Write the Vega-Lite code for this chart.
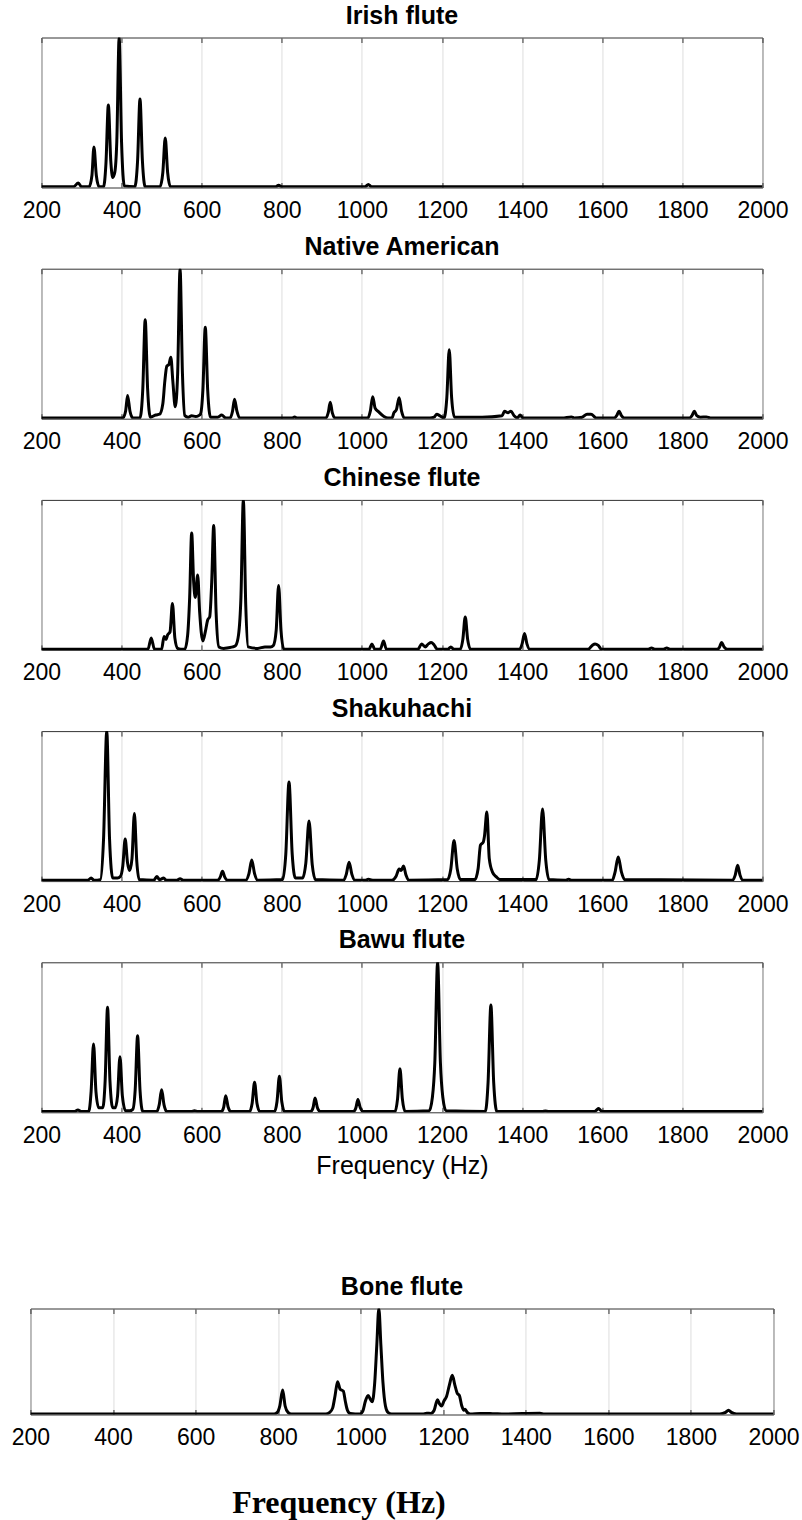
{
"$schema": "https://vega.github.io/schema/vega-lite/v6.json",
"background": "white",
"padding": {"left": 10, "top": 2.5, "right": 10, "bottom": 0},
"config": {
  "view": {"stroke": "#333333", "strokeWidth": 1},
  "font": "Liberation Sans",
  "title": {"font": "Liberation Sans", "fontSize": 25, "fontWeight": "bold", "color": "black", "offset": 8.5, "anchor": "middle", "baseline": "alphabetic"},
  "axis": {"domain": false, "ticks": true, "tickSize": -5, "tickColor": "#333333", "tickWidth": 1, "grid": true, "gridColor": "#dddddd", "gridWidth": 1, "labelFont": "Liberation Sans", "labelFontSize": 23, "labelColor": "black", "labelPadding": 17, "labelFlush": false, "labelOverlap": false, "format": "d", "titleFont": "Liberation Sans", "titleFontSize": 25, "titleFontWeight": "normal", "titleColor": "black", "titlePadding": 6}
},
"spacing": 94,
"center": true,
"vconcat": [
{
"spacing": 81.2,
"bounds": "flush",
"vconcat": [
{
 "title": "Irish flute",
 "width": 721, "height": 150,
 "data": {"values": [
  {"f":200,"a":0.005},{"f":280,"a":0.005},{"f":292,"a":0.03},{"f":300,"a":0.005},
  {"f":319,"a":0.005},{"f":326,"a":0.08},{"f":331,"a":0.27},{"f":337,"a":0.08},{"f":344,"a":0.005},
  {"f":355,"a":0.005},{"f":361,"a":0.16},{"f":367,"a":0.55},{"f":373,"a":0.18},{"f":378,"a":0.067},{"f":383,"a":0.1},{"f":388,"a":0.3},{"f":394,"a":1.0},{"f":400,"a":0.3},{"f":407,"a":0.01},
  {"f":433,"a":0.005},{"f":440,"a":0.18},{"f":446,"a":0.59},{"f":452,"a":0.18},{"f":459,"a":0.005},
  {"f":496,"a":0.005},{"f":503,"a":0.1},{"f":509,"a":0.33},{"f":515,"a":0.1},{"f":522,"a":0.005},
  {"f":785,"a":0.005},{"f":792,"a":0.015},{"f":800,"a":0.005},
  {"f":1008,"a":0.005},{"f":1016,"a":0.02},{"f":1024,"a":0.005},{"f":2000,"a":0.005}
 ]},
 "layer": [
  {"mark": {"type": "line", "color": "black", "strokeWidth": 3, "interpolate": "monotone", "clip": true},
   "encoding": {
    "x": {"field": "f", "type": "quantitative", "scale": {"domain": [200, 2000], "nice": false}, "axis": {"values": [200,400,600,800,1000,1200,1400,1600,1800,2000], "title": null}},
    "y": {"field": "a", "type": "quantitative", "scale": {"domain": [0, 1]}, "axis": null}}},
  {"mark": {"type": "line", "opacity": 0},
   "encoding": {
    "x": {"field": "f", "type": "quantitative", "axis": {"orient": "top", "values": [200,400,600,800,1000,1200,1400,1600,1800,2000], "labels": false, "grid": false, "title": null}},
    "y": {"field": "a", "type": "quantitative", "axis": null}}}
 ],
 "resolve": {"axis": {"x": "independent"}}
},
{
 "title": "Native American",
 "width": 721, "height": 150,
 "data": {"values": [
  {"f":200,"a":0.005},{"f":400,"a":0.005},
  {"f":403,"a":0.005},{"f":410,"a":0.05},{"f":415,"a":0.154},{"f":421,"a":0.05},{"f":428,"a":0.005},
  {"f":446,"a":0.005},{"f":453,"a":0.2},{"f":459,"a":0.66},{"f":465,"a":0.2},{"f":472,"a":0.01},
  {"f":485,"a":0.025},{"f":495,"a":0.03},{"f":503,"a":0.1},{"f":508,"a":0.25},{"f":513,"a":0.35},{"f":518,"a":0.36},{"f":523,"a":0.41},{"f":528,"a":0.25},{"f":534,"a":0.08},{"f":540,"a":0.3},{"f":546,"a":1.0},{"f":552,"a":0.3},{"f":558,"a":0.02},
  {"f":566,"a":0.01},{"f":575,"a":0.02},{"f":585,"a":0.015},{"f":592,"a":0.02},
  {"f":597,"a":0.03},{"f":603,"a":0.19},{"f":609,"a":0.61},{"f":615,"a":0.19},{"f":622,"a":0.01},
  {"f":640,"a":0.01},{"f":650,"a":0.025},{"f":660,"a":0.005},
  {"f":671,"a":0.005},{"f":677,"a":0.05},{"f":682,"a":0.13},{"f":688,"a":0.05},{"f":695,"a":0.005},
  {"f":826,"a":0.005},{"f":832,"a":0.012},{"f":838,"a":0.005},
  {"f":910,"a":0.005},{"f":916,"a":0.04},{"f":921,"a":0.11},{"f":926,"a":0.04},{"f":933,"a":0.005},
  {"f":1015,"a":0.005},{"f":1021,"a":0.05},{"f":1027,"a":0.147},{"f":1033,"a":0.07},{"f":1042,"a":0.045},{"f":1055,"a":0.015},{"f":1065,"a":0.005},
  {"f":1075,"a":0.005},{"f":1080,"a":0.04},{"f":1086,"a":0.06},{"f":1093,"a":0.14},{"f":1099,"a":0.05},{"f":1106,"a":0.005},
  {"f":1170,"a":0.005},{"f":1180,"a":0.01},{"f":1187,"a":0.03},{"f":1194,"a":0.02},
  {"f":1205,"a":0.005},{"f":1212,"a":0.14},{"f":1218,"a":0.46},{"f":1224,"a":0.14},{"f":1231,"a":0.01},
  {"f":1300,"a":0.01},{"f":1350,"a":0.02},{"f":1356,"a":0.05},{"f":1365,"a":0.04},{"f":1372,"a":0.05},{"f":1380,"a":0.02},{"f":1388,"a":0.005},{"f":1395,"a":0.025},{"f":1402,"a":0.005},
  {"f":1500,"a":0.005},{"f":1523,"a":0.012},{"f":1530,"a":0.005},{"f":1550,"a":0.01},{"f":1562,"a":0.03},{"f":1572,"a":0.03},{"f":1585,"a":0.005},
  {"f":1630,"a":0.005},{"f":1636,"a":0.02},{"f":1642,"a":0.05},{"f":1648,"a":0.02},{"f":1655,"a":0.005},
  {"f":1818,"a":0.005},{"f":1824,"a":0.02},{"f":1830,"a":0.05},{"f":1836,"a":0.02},{"f":1845,"a":0.01},{"f":1860,"a":0.012},{"f":1870,"a":0.005},{"f":2000,"a":0.005}
 ]},
 "layer": [
  {"mark": {"type": "line", "color": "black", "strokeWidth": 3, "interpolate": "monotone", "clip": true},
   "encoding": {
    "x": {"field": "f", "type": "quantitative", "scale": {"domain": [200, 2000], "nice": false}, "axis": {"values": [200,400,600,800,1000,1200,1400,1600,1800,2000], "title": null}},
    "y": {"field": "a", "type": "quantitative", "scale": {"domain": [0, 1]}, "axis": null}}},
  {"mark": {"type": "line", "opacity": 0},
   "encoding": {
    "x": {"field": "f", "type": "quantitative", "axis": {"orient": "top", "values": [200,400,600,800,1000,1200,1400,1600,1800,2000], "labels": false, "grid": false, "title": null}},
    "y": {"field": "a", "type": "quantitative", "axis": null}}}
 ],
 "resolve": {"axis": {"x": "independent"}}
},
{
 "title": "Chinese flute",
 "width": 721, "height": 150,
 "data": {"values": [
  {"f":200,"a":0.005},{"f":460,"a":0.005},{"f":466,"a":0.005},{"f":474,"a":0.08},{"f":482,"a":0.005},
  {"f":500,"a":0.005},{"f":506,"a":0.09},{"f":511,"a":0.07},{"f":515,"a":0.1},{"f":521,"a":0.12},{"f":527,"a":0.31},{"f":533,"a":0.08},{"f":540,"a":0.01},{"f":548,"a":0.005},
  {"f":558,"a":0.005},{"f":565,"a":0.1},{"f":570,"a":0.35},{"f":575,"a":0.78},{"f":580,"a":0.45},{"f":584,"a":0.35},{"f":590,"a":0.5},{"f":595,"a":0.25},{"f":603,"a":0.06},{"f":609,"a":0.12},{"f":615,"a":0.2},{"f":620,"a":0.22},{"f":625,"a":0.45},{"f":630,"a":0.83},{"f":636,"a":0.25},{"f":643,"a":0.02},
  {"f":655,"a":0.01},{"f":667,"a":0.015},{"f":678,"a":0.02},{"f":685,"a":0.03},{"f":692,"a":0.1},{"f":698,"a":0.35},{"f":704,"a":1.0},{"f":710,"a":0.3},{"f":716,"a":0.02},
  {"f":740,"a":0.01},{"f":758,"a":0.02},{"f":772,"a":0.02},{"f":779,"a":0.03},{"f":786,"a":0.13},{"f":792,"a":0.43},{"f":798,"a":0.13},{"f":805,"a":0.005},
  {"f":1018,"a":0.005},{"f":1025,"a":0.04},{"f":1032,"a":0.005},{"f":1046,"a":0.005},{"f":1054,"a":0.06},{"f":1061,"a":0.005},
  {"f":1140,"a":0.005},{"f":1149,"a":0.04},{"f":1158,"a":0.02},{"f":1166,"a":0.04},{"f":1173,"a":0.05},{"f":1180,"a":0.035},{"f":1188,"a":0.005},{"f":1215,"a":0.005},{"f":1222,"a":0.02},{"f":1229,"a":0.005},
  {"f":1246,"a":0.005},{"f":1252,"a":0.07},{"f":1258,"a":0.22},{"f":1264,"a":0.07},{"f":1271,"a":0.005},
  {"f":1394,"a":0.005},{"f":1400,"a":0.04},{"f":1406,"a":0.11},{"f":1412,"a":0.04},{"f":1419,"a":0.005},
  {"f":1565,"a":0.005},{"f":1575,"a":0.03},{"f":1582,"a":0.04},{"f":1590,"a":0.03},{"f":1598,"a":0.005},
  {"f":1715,"a":0.005},{"f":1723,"a":0.012},{"f":1731,"a":0.005},{"f":1753,"a":0.005},{"f":1761,"a":0.012},{"f":1769,"a":0.005},
  {"f":1888,"a":0.005},{"f":1893,"a":0.02},{"f":1898,"a":0.05},{"f":1904,"a":0.02},{"f":1912,"a":0.005},{"f":2000,"a":0.005}
 ]},
 "layer": [
  {"mark": {"type": "line", "color": "black", "strokeWidth": 3, "interpolate": "monotone", "clip": true},
   "encoding": {
    "x": {"field": "f", "type": "quantitative", "scale": {"domain": [200, 2000], "nice": false}, "axis": {"values": [200,400,600,800,1000,1200,1400,1600,1800,2000], "title": null}},
    "y": {"field": "a", "type": "quantitative", "scale": {"domain": [0, 1]}, "axis": null}}},
  {"mark": {"type": "line", "opacity": 0},
   "encoding": {
    "x": {"field": "f", "type": "quantitative", "axis": {"orient": "top", "values": [200,400,600,800,1000,1200,1400,1600,1800,2000], "labels": false, "grid": false, "title": null}},
    "y": {"field": "a", "type": "quantitative", "axis": null}}}
 ],
 "resolve": {"axis": {"x": "independent"}}
},
{
 "title": "Shakuhachi",
 "width": 721, "height": 150,
 "data": {"values": [
  {"f":200,"a":0.005},{"f":315,"a":0.005},{"f":324,"a":0.02},{"f":332,"a":0.005},
  {"f":347,"a":0.01},{"f":355,"a":0.28},{"f":363,"a":1.0},{"f":370,"a":0.28},{"f":378,"a":0.02},{"f":390,"a":0.02},
  {"f":397,"a":0.03},{"f":403,"a":0.1},{"f":409,"a":0.28},{"f":415,"a":0.12},{"f":420,"a":0.07},{"f":426,"a":0.15},{"f":432,"a":0.45},{"f":438,"a":0.13},{"f":444,"a":0.01},
  {"f":480,"a":0.005},{"f":488,"a":0.03},{"f":495,"a":0.01},{"f":505,"a":0.02},{"f":512,"a":0.005},{"f":538,"a":0.005},{"f":546,"a":0.015},{"f":554,"a":0.005},
  {"f":640,"a":0.005},{"f":646,"a":0.025},{"f":652,"a":0.065},{"f":658,"a":0.025},{"f":665,"a":0.005},
  {"f":710,"a":0.005},{"f":718,"a":0.05},{"f":725,"a":0.14},{"f":732,"a":0.05},{"f":740,"a":0.005},
  {"f":802,"a":0.01},{"f":810,"a":0.18},{"f":818,"a":0.66},{"f":826,"a":0.18},{"f":834,"a":0.02},{"f":843,"a":0.02},
  {"f":852,"a":0.02},{"f":860,"a":0.12},{"f":868,"a":0.4},{"f":876,"a":0.11},{"f":884,"a":0.01},
  {"f":954,"a":0.005},{"f":961,"a":0.045},{"f":968,"a":0.125},{"f":975,"a":0.045},{"f":983,"a":0.005},
  {"f":1008,"a":0.005},{"f":1016,"a":0.012},{"f":1030,"a":0.005},
  {"f":1075,"a":0.005},{"f":1085,"a":0.03},{"f":1093,"a":0.08},{"f":1098,"a":0.07},{"f":1104,"a":0.1},{"f":1110,"a":0.04},{"f":1118,"a":0.005},
  {"f":1214,"a":0.01},{"f":1222,"a":0.08},{"f":1230,"a":0.27},{"f":1238,"a":0.08},{"f":1246,"a":0.01},
  {"f":1282,"a":0.01},{"f":1290,"a":0.08},{"f":1296,"a":0.24},{"f":1303,"a":0.26},{"f":1306,"a":0.3},{"f":1312,"a":0.46},{"f":1318,"a":0.15},{"f":1326,"a":0.06},{"f":1335,"a":0.03},{"f":1345,"a":0.01},
  {"f":1435,"a":0.01},{"f":1443,"a":0.14},{"f":1451,"a":0.48},{"f":1459,"a":0.14},{"f":1467,"a":0.01},
  {"f":1508,"a":0.005},{"f":1516,"a":0.012},{"f":1524,"a":0.005},
  {"f":1625,"a":0.005},{"f":1632,"a":0.06},{"f":1640,"a":0.16},{"f":1648,"a":0.06},{"f":1656,"a":0.01},
  {"f":1925,"a":0.005},{"f":1932,"a":0.04},{"f":1938,"a":0.105},{"f":1944,"a":0.04},{"f":1952,"a":0.005},{"f":2000,"a":0.005}
 ]},
 "layer": [
  {"mark": {"type": "line", "color": "black", "strokeWidth": 3, "interpolate": "monotone", "clip": true},
   "encoding": {
    "x": {"field": "f", "type": "quantitative", "scale": {"domain": [200, 2000], "nice": false}, "axis": {"values": [200,400,600,800,1000,1200,1400,1600,1800,2000], "title": null}},
    "y": {"field": "a", "type": "quantitative", "scale": {"domain": [0, 1]}, "axis": null}}},
  {"mark": {"type": "line", "opacity": 0},
   "encoding": {
    "x": {"field": "f", "type": "quantitative", "axis": {"orient": "top", "values": [200,400,600,800,1000,1200,1400,1600,1800,2000], "labels": false, "grid": false, "title": null}},
    "y": {"field": "a", "type": "quantitative", "axis": null}}}
 ],
 "resolve": {"axis": {"x": "independent"}}
},
{
 "title": "Bawu flute",
 "width": 721, "height": 150,
 "data": {"values": [
  {"f":200,"a":0.005},{"f":283,"a":0.005},{"f":291,"a":0.015},{"f":299,"a":0.005},
  {"f":318,"a":0.005},{"f":324,"a":0.14},{"f":330,"a":0.456},{"f":336,"a":0.14},{"f":343,"a":0.03},
  {"f":353,"a":0.03},{"f":359,"a":0.21},{"f":365,"a":0.7},{"f":371,"a":0.21},{"f":378,"a":0.03},
  {"f":384,"a":0.03},{"f":390,"a":0.11},{"f":396,"a":0.37},{"f":402,"a":0.11},{"f":410,"a":0.01},{"f":420,"a":0.01},
  {"f":428,"a":0.02},{"f":434,"a":0.15},{"f":440,"a":0.51},{"f":446,"a":0.15},{"f":453,"a":0.005},
  {"f":488,"a":0.005},{"f":494,"a":0.05},{"f":500,"a":0.15},{"f":506,"a":0.05},{"f":513,"a":0.005},
  {"f":575,"a":0.005},{"f":582,"a":0.01},{"f":590,"a":0.005},
  {"f":649,"a":0.005},{"f":655,"a":0.035},{"f":660,"a":0.11},{"f":666,"a":0.035},{"f":673,"a":0.005},
  {"f":720,"a":0.005},{"f":726,"a":0.06},{"f":732,"a":0.2},{"f":738,"a":0.06},{"f":745,"a":0.005},
  {"f":782,"a":0.005},{"f":788,"a":0.07},{"f":794,"a":0.24},{"f":800,"a":0.07},{"f":807,"a":0.005},
  {"f":872,"a":0.005},{"f":878,"a":0.03},{"f":883,"a":0.095},{"f":889,"a":0.03},{"f":896,"a":0.005},
  {"f":979,"a":0.005},{"f":985,"a":0.03},{"f":990,"a":0.085},{"f":996,"a":0.03},{"f":1003,"a":0.005},
  {"f":1083,"a":0.005},{"f":1089,"a":0.09},{"f":1095,"a":0.29},{"f":1101,"a":0.09},{"f":1108,"a":0.005},
  {"f":1168,"a":0.01},{"f":1176,"a":0.1},{"f":1182,"a":0.33},{"f":1189,"a":1.0},{"f":1196,"a":0.33},{"f":1202,"a":0.1},{"f":1210,"a":0.01},
  {"f":1308,"a":0.005},{"f":1315,"a":0.2},{"f":1322,"a":0.715},{"f":1329,"a":0.2},{"f":1337,"a":0.005},
  {"f":1450,"a":0.005},{"f":1458,"a":0.008},{"f":1466,"a":0.005},
  {"f":1580,"a":0.005},{"f":1586,"a":0.015},{"f":1591,"a":0.025},{"f":1597,"a":0.01},{"f":1605,"a":0.005},{"f":2000,"a":0.005}
 ]},
 "layer": [
  {"mark": {"type": "line", "color": "black", "strokeWidth": 3, "interpolate": "monotone", "clip": true},
   "encoding": {
    "x": {"field": "f", "type": "quantitative", "scale": {"domain": [200, 2000], "nice": false}, "axis": {"values": [200,400,600,800,1000,1200,1400,1600,1800,2000], "title": "Frequency (Hz)"}},
    "y": {"field": "a", "type": "quantitative", "scale": {"domain": [0, 1]}, "axis": null}}},
  {"mark": {"type": "line", "opacity": 0},
   "encoding": {
    "x": {"field": "f", "type": "quantitative", "axis": {"orient": "top", "values": [200,400,600,800,1000,1200,1400,1600,1800,2000], "labels": false, "grid": false, "title": null}},
    "y": {"field": "a", "type": "quantitative", "axis": null}}}
 ],
 "resolve": {"axis": {"x": "independent"}}
}
]
},
{
 "title": "Bone flute",
 "width": 743, "height": 106,
 "data": {"values": [
  {"f":200,"a":0.005},{"f":790,"a":0.005},{"f":798,"a":0.02},{"f":804,"a":0.08},{"f":811,"a":0.23},{"f":817,"a":0.08},{"f":824,"a":0.02},{"f":832,"a":0.005},
  {"f":915,"a":0.005},{"f":925,"a":0.02},{"f":932,"a":0.06},{"f":938,"a":0.18},{"f":944,"a":0.31},{"f":950,"a":0.24},{"f":958,"a":0.22},{"f":963,"a":0.12},{"f":968,"a":0.04},{"f":975,"a":0.01},
  {"f":998,"a":0.005},{"f":1005,"a":0.03},{"f":1011,"a":0.12},{"f":1018,"a":0.18},{"f":1024,"a":0.14},{"f":1028,"a":0.12},{"f":1034,"a":0.3},{"f":1039,"a":0.65},{"f":1044,"a":1.0},{"f":1049,"a":0.65},{"f":1054,"a":0.3},{"f":1060,"a":0.08},{"f":1066,"a":0.02},{"f":1075,"a":0.005},
  {"f":1150,"a":0.005},{"f":1160,"a":0.012},{"f":1170,"a":0.01},{"f":1178,"a":0.04},{"f":1186,"a":0.14},{"f":1191,"a":0.1},{"f":1196,"a":0.08},{"f":1202,"a":0.13},{"f":1208,"a":0.17},{"f":1215,"a":0.28},{"f":1222,"a":0.37},{"f":1228,"a":0.28},{"f":1234,"a":0.2},{"f":1239,"a":0.18},{"f":1245,"a":0.08},{"f":1250,"a":0.04},{"f":1253,"a":0.05},{"f":1258,"a":0.02},{"f":1265,"a":0.005},
  {"f":1290,"a":0.01},{"f":1320,"a":0.008},{"f":1350,"a":0.005},{"f":1434,"a":0.012},{"f":1445,"a":0.005},
  {"f":1870,"a":0.005},{"f":1884,"a":0.02},{"f":1891,"a":0.04},{"f":1898,"a":0.02},{"f":1910,"a":0.005},{"f":2000,"a":0.005}
 ]},
 "layer": [
  {"mark": {"type": "line", "color": "black", "strokeWidth": 3, "interpolate": "monotone", "clip": true},
   "encoding": {
    "x": {"field": "f", "type": "quantitative", "scale": {"domain": [200, 2000], "nice": false}, "axis": {"values": [200,400,600,800,1000,1200,1400,1600,1800,2000], "title": "Frequency (Hz)", "titleFont": "Liberation Serif", "titleFontSize": 32, "titleFontWeight": "bold", "titlePadding": 38, "titleX": 308, "titleAlign": "center"}},
    "y": {"field": "a", "type": "quantitative", "scale": {"domain": [0, 1]}, "axis": null}}},
  {"mark": {"type": "line", "opacity": 0},
   "encoding": {
    "x": {"field": "f", "type": "quantitative", "axis": {"orient": "top", "values": [200,400,600,800,1000,1200,1400,1600,1800,2000], "labels": false, "grid": false, "title": null}},
    "y": {"field": "a", "type": "quantitative", "axis": null}}}
 ],
 "resolve": {"axis": {"x": "independent"}}
}
]
}
